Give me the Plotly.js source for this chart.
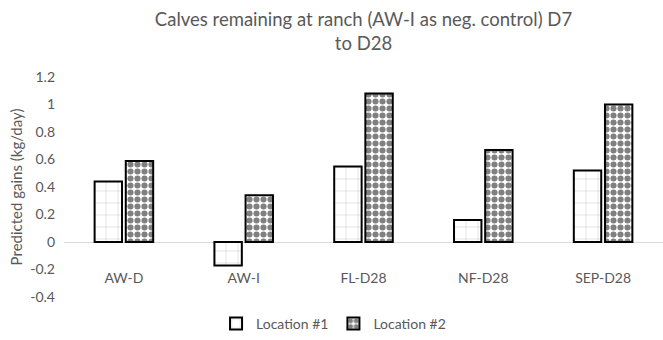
<!DOCTYPE html>
<html>
<head>
<meta charset="utf-8">
<script src="https://cdn.plot.ly/plotly-3.0.1.min.js"></script>
<style>html,body{margin:0;padding:0;background:#fff;}#chart{width:663px;height:340px;}</style>
</head>
<body>
<div id="chart"></div>
<script>
const categories = ["AW-D", "AW-I", "FL-D28", "NF-D28", "SEP-D28"];
const location1 = [0.44, -0.17, 0.55, 0.16, 0.52];
const location2 = [0.59, 0.34, 1.08, 0.67, 1.00];
const seriesNames = ["Location #1", "Location #2"];
const yTickVals = [-0.4, -0.2, 0, 0.2, 0.4, 0.6, 0.8, 1, 1.2];
const yTickText = ["-0.4", "-0.2", "0", "0.2", "0.4", "0.6", "0.8", "1", "1.2"];

const fontFam = "Lato, 'Open Sans', sans-serif";
const grey = "#595959";

const traces = [
  {
    type: "bar", name: seriesNames[0], x: categories, y: location1,
    marker: {
      color: "#ffffff",
      line: {color: "#000000", width: 2},
      pattern: {shape: "+", fgcolor: "#c8c8c8", bgcolor: "#ffffff", size: 12, solidity: 0.08}
    }
  },
  {
    type: "bar", name: seriesNames[1], x: categories, y: location2,
    marker: {
      color: "#ffffff",
      line: {color: "#000000", width: 2},
      pattern: {shape: ".", fgcolor: "#808080", bgcolor: "#ffffff", size: 7, solidity: 0.6}
    }
  }
];

const layout = {
  width: 663, height: 340,
  margin: {l: 64, r: 0, t: 77, b: 42},
  paper_bgcolor: "#ffffff", plot_bgcolor: "#ffffff",
  font: {family: fontFam, color: grey, size: 13},
  title: {
    text: "Calves remaining at ranch (AW-I as neg. control) D7<br>to D28",
    font: {family: fontFam, size: 18.5, color: grey},
    x: 0.5, xanchor: "center", xref: "paper", y: 0.925, yanchor: "middle", yref: "container"
  },
  barmode: "group",
  bargap: 0.48,
  bargroupgap: 0.12,
  showlegend: true,
  legend: {
    orientation: "h", x: 0.45, xanchor: "center", y: -0.125, yanchor: "middle",
    font: {family: fontFam, size: 14, color: grey}
  },
  xaxis: {
    type: "category",
    anchor: "free", position: 0.13,
    showline: false, showgrid: false, zeroline: false, ticks: "",
    tickfont: {family: fontFam, size: 14, color: grey}
  },
  yaxis: {
    range: [-0.4, 1.2],
    tickvals: yTickVals, ticktext: yTickText,
    showgrid: false, showline: false, ticks: "",
    zeroline: true, zerolinecolor: "#d9d9d9", zerolinewidth: 1,
    ticklabelstandoff: 8,
    tickfont: {family: fontFam, size: 14, color: grey},
    title: {text: "Predicted gains (kg/day)", font: {family: fontFam, size: 15, color: grey}, standoff: 4}
  }
};

Plotly.newPlot("chart", traces, layout, {displayModeBar: false, staticPlot: true});
</script>
</body>
</html>
